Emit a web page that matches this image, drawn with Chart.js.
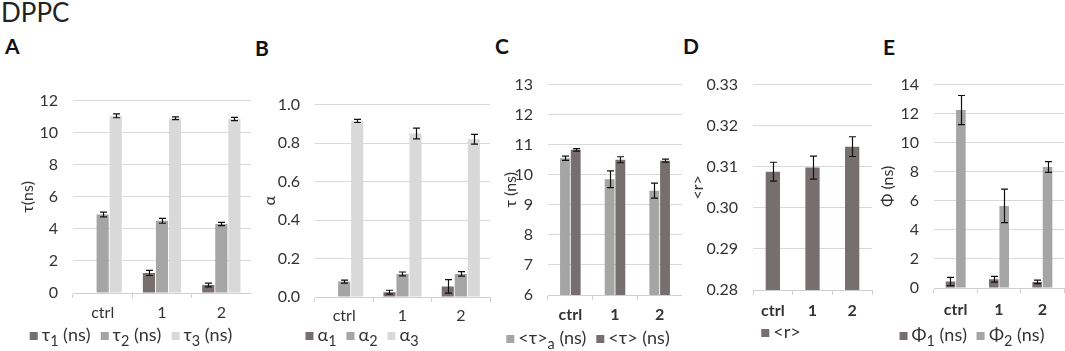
<!DOCTYPE html>
<html>
<head>
<meta charset="utf-8">
<script src="https://cdn.jsdelivr.net/npm/chart.js@4.4.0/dist/chart.umd.min.js"></script>
<style>
  body { margin: 0; width: 1065px; height: 351px; overflow: hidden; background: #fff; position: relative;
         font-family: Lato, 'DejaVu Sans', sans-serif; }
  .box { position: absolute; }
  .letter { position: absolute; font-weight: bold; font-size: 21px; color: #111; }
  #title { position: absolute; left: 1px; top: -4px; font-size: 26px; color: #222; }
  .legend { position: absolute; transform: translate(-50%, -50%); white-space: nowrap;
            font-size: 18px; line-height: 20px; color: #333; }
  .legend .item { margin: 0 5px; }
  .legend i { display: inline-block; width: 8px; height: 8px; margin-right: 4px; vertical-align: 1px; }
  .legend sub { font-size: 80%; vertical-align: -0.35em; line-height: 0; }
</style>
</head>
<body>
<div id="title">DPPC</div>
<div class="letter" style="left:5px;top:33px">A</div>
<div class="letter" style="left:255px;top:35px">B</div>
<div class="letter" style="left:495px;top:33px">C</div>
<div class="letter" style="left:683px;top:33px">D</div>
<div class="letter" style="left:883px;top:34px">E</div>

<div class="box" style="left:12px;top:76px;width:239px;height:251px"><canvas id="cA"></canvas></div>
<div class="box" style="left:230px;top:80px;width:262px;height:251px"><canvas id="cB"></canvas></div>
<div class="box" style="left:494px;top:60px;width:188px;height:269px"><canvas id="cC"></canvas></div>
<div class="box" style="left:686px;top:60px;width:190px;height:264px"><canvas id="cD"></canvas></div>
<div class="box" style="left:877px;top:60px;width:190px;height:262px"><canvas id="cE"></canvas></div>

<script>
const categories = ['ctrl', '1', '2'];

// A - lifetimes
const tau1 = [null, 1.25, 0.5];
const tau1Err = [null, 0.16, 0.12];
const tau2 = [4.9, 4.5, 4.3];
const tau2Err = [0.15, 0.15, 0.1];
const tau3 = [11.05, 10.9, 10.85];
const tau3Err = [0.12, 0.09, 0.1];
const ticksA = [0, 2, 4, 6, 8, 10, 12];

// B - amplitudes
const alpha1 = [null, 0.025, 0.055];
const alpha1Err = [null, 0.01, 0.035];
const alpha2 = [0.08, 0.12, 0.12];
const alpha2Err = [0.008, 0.01, 0.012];
const alpha3 = [0.915, 0.85, 0.82];
const alpha3Err = [0.008, 0.028, 0.025];
const ticksB = [0, 0.2, 0.4, 0.6, 0.8, 1.0];

// C - mean lifetimes
const tauAmp = [10.55, 9.85, 9.47];
const tauAmpErr = [0.07, 0.28, 0.25];
const tauMean = [10.83, 10.5, 10.47];
const tauMeanErr = [0.04, 0.1, 0.05];
const ticksC = [6, 7, 8, 9, 10, 11, 12, 13];

// D - anisotropy
const rMean = [0.3088, 0.3098, 0.3149];
const rErr = [0.0023, 0.0028, 0.0024];
const ticksD = [0.28, 0.29, 0.30, 0.31, 0.32, 0.33];

// E - rotational correlation times
const phi1 = [0.45, 0.6, 0.42];
const phi1Err = [0.28, 0.2, 0.12];
const phi2 = [12.25, 5.65, 8.33];
const phi2Err = [1.0, 1.15, 0.37];
const ticksE = [0, 2, 4, 6, 8, 10, 12, 14];

const DARK = '#776f6f', MID = '#a5a5a5', LIGHT = '#d9d9d9';
const TXT = '#333333';
const SUBS = { '₁': '1', '₂': '2', '₃': '3', 'ₐ': 'a' };

Chart.defaults.font.family = "Lato, 'DejaVu Sans', sans-serif";

const errorBars = {
  id: 'errorBars',
  afterDatasetsDraw(chart) {
    const ctx = chart.ctx;
    const y = chart.scales.y;
    ctx.save();
    ctx.strokeStyle = '#111';
    ctx.lineWidth = 1.2;
    chart.data.datasets.forEach((ds, i) => {
      chart.getDatasetMeta(i).data.forEach((bar, j) => {
        const v = ds.data[j], e = ds.errors[j];
        if (v == null || e == null) return;
        const x = Math.round(bar.x) + 0.5;
        const top = y.getPixelForValue(v + e);
        const bot = y.getPixelForValue(v - e);
        ctx.beginPath();
        ctx.moveTo(x, top); ctx.lineTo(x, bot);
        ctx.moveTo(x - 3.5, top); ctx.lineTo(x + 3.5, top);
        ctx.moveTo(x - 3.5, bot); ctx.lineTo(x + 3.5, bot);
        ctx.stroke();
      });
    });
    ctx.restore();
  }
};

// legend as html so the subscripts look like real subscripts
function htmlLegend(chart, cx, cy) {
  const div = document.createElement('div');
  div.className = 'legend';
  div.style.left = cx + 'px';
  div.style.top = cy + 'px';
  chart.data.datasets.forEach(ds => {
    const item = document.createElement('span');
    item.className = 'item';
    const sw = document.createElement('i');
    sw.style.background = ds.backgroundColor;
    item.appendChild(sw);
    for (const ch of ds.label) {
      if (SUBS[ch]) {
        const s = document.createElement('sub');
        s.textContent = SUBS[ch];
        item.appendChild(s);
      } else {
        item.appendChild(document.createTextNode(ch));
      }
    }
    div.appendChild(item);
  });
  document.body.appendChild(div);
}

function series(label, data, errors, color, o) {
  return { label, data, errors, backgroundColor: color, borderWidth: 0,
           categoryPercentage: o.cat, barPercentage: o.bar };
}

function panel(id, datasets, ticks, o) {
  const chart = new Chart(document.getElementById(id), {
    type: 'bar',
    data: { labels: categories, datasets },
    options: {
      responsive: true,
      maintainAspectRatio: false,
      animation: false,
      layout: { padding: { top: 15, right: o.padR || 0, left: 0, bottom: 0 } },
      plugins: {
        legend: { display: false },
        tooltip: { enabled: false }
      },
      scales: {
        x: {
          grid: { drawOnChartArea: false, tickLength: 5, color: '#d0d0d0' },
          border: { color: '#d0d0d0' },
          ticks: { color: TXT, padding: o.xPad, font: { size: 16, weight: o.boldX ? 'bold' : 'normal' } },
          afterFit: s => { s.height = 34; }
        },
        y: {
          min: ticks[0],
          max: ticks[ticks.length - 1],
          ticks: {
            stepSize: ticks[1] - ticks[0],
            padding: 15,
            color: TXT,
            font: { size: 16 },
            callback: v => Number(v).toFixed(o.dec)
          },
          grid: { drawTicks: false, color: '#d9d9d9' },
          border: { display: false },
          title: { display: true, text: o.title, color: TXT, font: { size: 16 },
                   padding: { top: o.tp, bottom: 0 } },
          afterFit: s => { s.width = o.yW; }
        }
      }
    },
    plugins: [errorBars]
  });
  htmlLegend(chart, o.lx, o.ly);
  return chart;
}

const oA = { cat: 0.66, bar: 0.93 };
panel('cA', [
  series('τ₁ (ns)', tau1, tau1Err, DARK, oA),
  series('τ₂ (ns)', tau2, tau2Err, MID, oA),
  series('τ₃ (ns)', tau3, tau3Err, LIGHT, oA)
], ticksA, { title: 'τ(ns)', tp: 6, yW: 61, xPad: 5, dec: 0, lx: 131, ly: 334 });

const oB = { cat: 0.67, bar: 0.93 };
panel('cB', [
  series('α₁', alpha1, alpha1Err, DARK, oB),
  series('α₂', alpha2, alpha2Err, MID, oB),
  series('α₃', alpha3, alpha3Err, LIGHT, oB)
], ticksB, { title: 'α', tp: 30, yW: 85, xPad: 4, dec: 1, padR: 2, lx: 362, ly: 334 });

const oC = { cat: 0.48, bar: 0.92 };
panel('cC', [
  series('<τ>ₐ (ns)', tauAmp, tauAmpErr, MID, oC),
  series('<τ> (ns)', tauMean, tauMeanErr, DARK, oC)
], ticksC, { title: 'τ (ns)', tp: 7, yW: 54, xPad: 5, dec: 0, boldX: true, lx: 588, ly: 337 });

const oD = { cat: 0.36, bar: 1 };
panel('cD', [
  series('<r>', rMean, rErr, DARK, oD)
], ticksD, { title: '<r>', tp: 2, yW: 67, xPad: 6, dec: 2, boldX: true, padR: 4, lx: 781, ly: 331 });

const oE = { cat: 0.48, bar: 0.92 };
panel('cE', [
  series('Φ₁ (ns)', phi1, phi1Err, DARK, oE),
  series('Φ₂ (ns)', phi2, phi2Err, MID, oE)
], ticksE, { title: 'Φ (ns)', tp: 1, yW: 57, xPad: 7, dec: 0, boldX: true, padR: 3, lx: 972, ly: 334 });
</script>
</body>
</html>
